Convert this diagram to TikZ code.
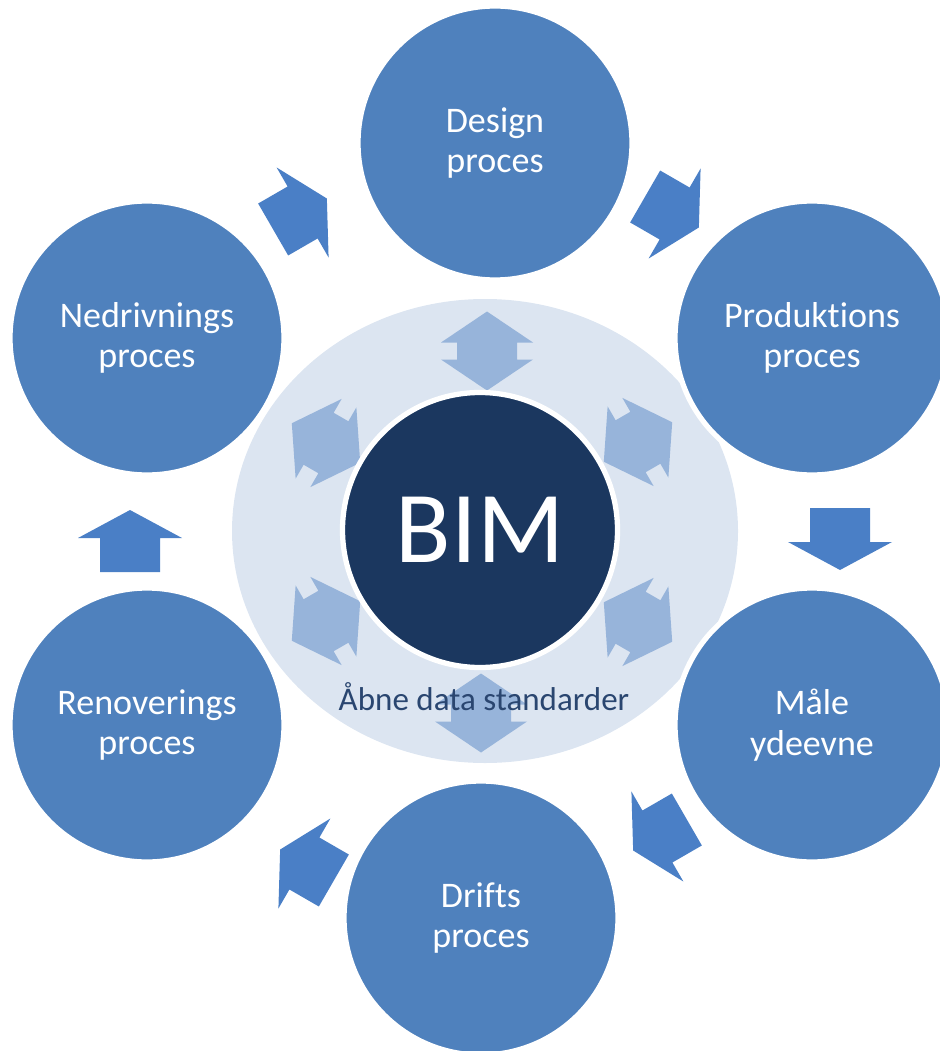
\documentclass[tikz,border=0pt]{standalone}
\usepackage{fontspec}
\setmainfont{Carlito}[Ligatures=NoCommon]

\definecolor{procblue}{HTML}{4F81BD}
\definecolor{arrowblue}{HTML}{4A7FC6}
\definecolor{bimnavy}{HTML}{1B375F}
\definecolor{ringblue}{HTML}{DCE5F1}
\definecolor{innerblue}{HTML}{97B4DA}
\definecolor{stdtext}{HTML}{2A4670}

\tikzset{
  proc/.style={circle, fill=procblue, draw=white, line width=3pt,
    minimum size=5.48cm, inner sep=0pt, text=white, align=center,
    font=\fontsize{20.5}{23}\selectfont},
  pics/cyclearrow/.style={code={
    \fill[arrowblue] (31,0) -- (3,52) -- (3,30) -- (-31,30) -- (-31,-30)
      -- (3,-30) -- (3,-52) -- cycle;
  }},
  pics/dataarrow/.style={code={
    \fill[innerblue] (39.5,0) -- (8.5,46) -- (8.5,30) -- (-8.5,30) -- (-8.5,46)
      -- (-39.5,0) -- (-8.5,-46) -- (-8.5,-30) -- (8.5,-30) -- (8.5,-46) -- cycle;
  }},
}

\begin{document}
\begin{tikzpicture}[x=0.2mm, y=-0.2mm]
  \useasboundingbox (0,0) rectangle (940,1051);

  % light ring behind BIM
  \fill[ringblue] (485,531) ellipse [x radius=253, y radius=232];

  % data exchange arrows
  \pic[rotate=90]  at (487,351) {dataarrow};
  \pic[rotate=90]  at (481,713) {dataarrow};
  \pic[rotate=150] at (326,443) {dataarrow};
  \pic[rotate=30]  at (638,442) {dataarrow};
  \pic[rotate=30]  at (326,621) {dataarrow};
  \pic[rotate=150] at (638,622) {dataarrow};

  \node[circle, fill=bimnavy, draw=white, line width=3pt, minimum size=5.5cm,
    text=white, font=\fontsize{58}{60}\selectfont] (bim) at (480,530) {BIM};
  \node[text=stdtext, font=\fontsize{18.8}{21}\selectfont] (std) at (484,697)
    {Åbne data standarder};

  % process circles
  \node[proc] (des)    at (495,143) {Design\\proces};
  \node[proc] (prod)   at (812,338) {Produktions\\proces};
  \node[proc] (maale)  at (812,725) {Måle\\ydeevne};
  \node[proc] (drift)  at (481,918) {Drifts\\proces};
  \node[proc] (reno)   at (147,725) {Renoverings\\proces};
  \node[proc] (nedriv) at (147,338) {Nedrivnings\\proces};

  % cycle arrows
  \pic[rotate=30]   at (300,214) {cyclearrow};
  \pic[rotate=-30]  at (672,212) {cyclearrow};
  \pic[rotate=-90]  at (840,539) {cyclearrow};
  \pic[rotate=-150] at (660,835) {cyclearrow};
  \pic[rotate=150]  at (307,865) {cyclearrow};
  \pic[rotate=90]   at (130,541) {cyclearrow};
\end{tikzpicture}
\end{document}
